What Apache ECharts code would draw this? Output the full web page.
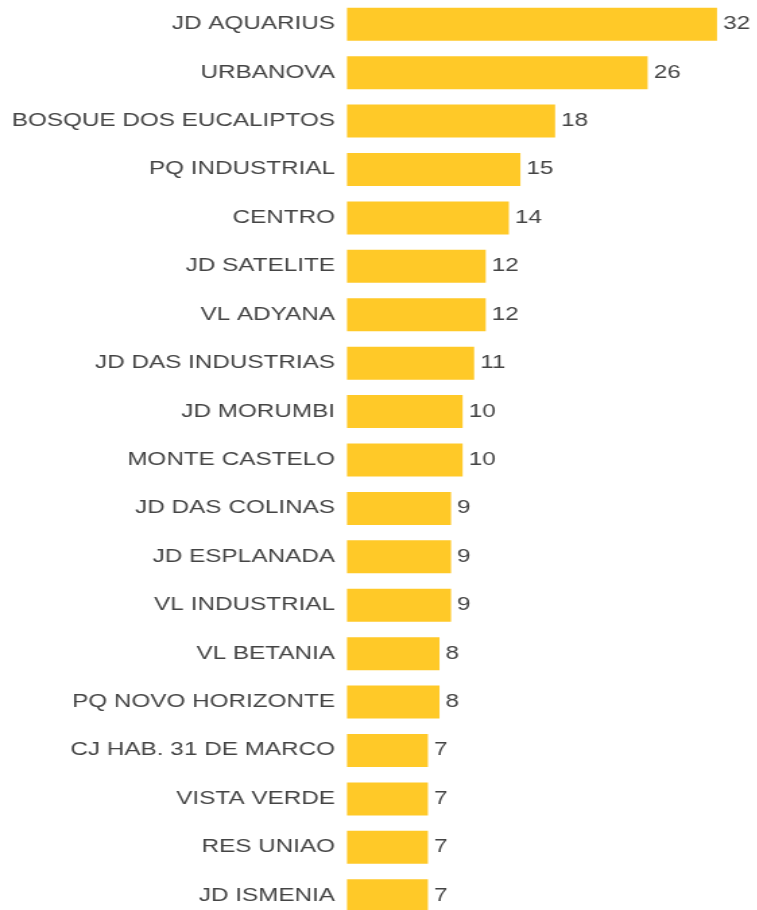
<!DOCTYPE html>
<html>
<head>
<meta charset="utf-8">
<script src="https://cdn.jsdelivr.net/npm/echarts@6/dist/echarts.min.js"></script>
<style>
  html,body{margin:0;padding:0;background:#fff;overflow:hidden;}
  /* o gráfico original é esticado na horizontal */
  #main{width:562px;height:910px;transform:scaleX(1.348);transform-origin:0 0;}
</style>
</head>
<body>
<div id="main"></div>
<script>
  // bairros e quantidades
  let bairros=["JD AQUARIUS","URBANOVA","BOSQUE DOS EUCALIPTOS","PQ INDUSTRIAL","CENTRO","JD SATELITE","VL ADYANA","JD DAS INDUSTRIAS","JD MORUMBI","MONTE CASTELO","JD DAS COLINAS","JD ESPLANADA","VL INDUSTRIAL","VL BETANIA","PQ NOVO HORIZONTE","CJ HAB. 31 DE MARCO","VISTA VERDE","RES UNIAO","JD ISMENIA"];
  let valores=[32,26,18,15,14,12,12,11,10,10,9,9,9,8,8,7,7,7,7];

  let mychart=echarts.init(document.getElementById('main'));

  let option={
    animation:false,
    grid:{
      left:257.4,
      top:0,
      width:274.5,
      height:920,   // a última barra fica cortada na borda de baixo
      outerBoundsMode:'none'
    },
    xAxis:{
      type:"value",
      min:0,
      max:32,
      show:false
    },
    yAxis:{
      type:"category",
      data:bairros,
      inverse:true,
      axisLine:{show:false},
      axisTick:{show:false},
      axisLabel:{
        margin:9,
        color:"#444",
        fontSize:18,
        fontFamily:"Liberation Sans, Arial, sans-serif"
      }
    },
    series:[{
      type:"bar",
      data:valores,
      barWidth:33,
      itemStyle:{
        color:"#FFC928"
      },
      label:{
        show:true,
        position:"right",
        distance:4.5,
        color:"#444",
        fontSize:18,
        fontFamily:"Liberation Sans, Arial, sans-serif"
      }
    }]
  };

  mychart.setOption(option);
</script>
</body>
</html>
